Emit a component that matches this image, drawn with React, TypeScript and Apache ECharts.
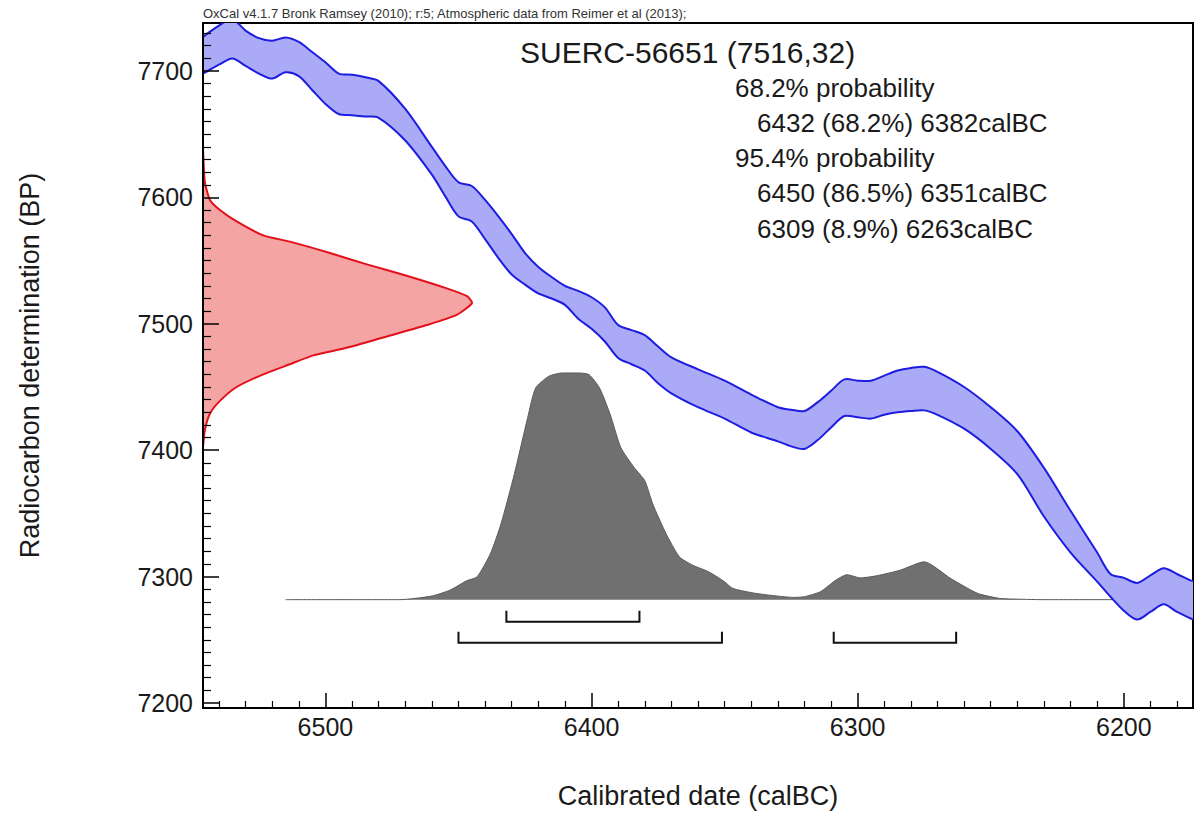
import React, { useEffect, useRef } from "react";
import * as echarts from "echarts";

const FONT = "'Liberation Sans', Arial, Helvetica, sans-serif";

const headerText =
  "OxCal v4.1.7 Bronk Ramsey (2010); r:5; Atmospheric data from Reimer et al (2013);";
const sampleName = "SUERC-56651";
const sampleAge = 7516;
const sampleErr = 32;

// Calibration curve (IntCal13) 1-sigma envelope
const bandYears = [
  6546, 6540, 6535, 6530, 6525, 6520, 6515, 6510, 6505, 6500, 6495, 6490, 6485, 6480,
  6470, 6460, 6455, 6450, 6445, 6440, 6435, 6430, 6425, 6420, 6415, 6410, 6405, 6400,
  6395, 6390, 6385, 6380, 6375, 6370, 6360, 6350, 6340, 6330, 6325, 6320, 6315, 6310,
  6305, 6300, 6295, 6290, 6285, 6280, 6275, 6270, 6260, 6250, 6240, 6230, 6220, 6210,
  6205, 6200, 6195, 6190, 6185, 6180, 6175, 6174,
];
const bandUpper = [
  7727, 7736, 7741, 7732, 7726, 7724, 7726.5, 7723, 7715, 7707, 7698, 7697, 7695, 7692,
  7670, 7640, 7625, 7612, 7609, 7598, 7585, 7571, 7556, 7545, 7537, 7530, 7526, 7521,
  7513, 7499, 7495, 7491, 7482, 7473.5, 7464, 7455, 7444, 7434, 7432, 7431, 7438, 7447,
  7456, 7455, 7455, 7459, 7463, 7465, 7466, 7462, 7450, 7434, 7415, 7386, 7352, 7319,
  7302, 7299, 7295, 7301, 7306.5, 7302, 7297, 7296.5,
];
const bandLower = [
  7698, 7705, 7710, 7704, 7698, 7694, 7699, 7696, 7685, 7674, 7666, 7665, 7664, 7663,
  7645, 7618, 7601, 7585, 7581, 7567, 7552, 7539, 7531, 7524, 7520, 7515, 7504, 7496,
  7486, 7473, 7468, 7463, 7453, 7445, 7434, 7425, 7414, 7407, 7403, 7401, 7408, 7418,
  7427, 7426, 7425, 7428, 7430, 7431, 7431.5, 7428, 7417, 7401, 7381, 7347.5, 7319, 7296,
  7284, 7273, 7266, 7272, 7278, 7272, 7267, 7266,
];

// Calibrated probability distribution (relative)
const calYears = [
  6515, 6472, 6460, 6453, 6447, 6443, 6438, 6434, 6429, 6424, 6421, 6416, 6411, 6405,
  6401, 6397, 6393, 6389, 6384, 6380, 6377, 6372, 6367, 6362, 6356, 6350, 6347, 6340,
  6334, 6324, 6320, 6314, 6308, 6304, 6299, 6293, 6284, 6275, 6265, 6255, 6247, 6243,
  6230, 6175,
];
const calProb = [
  0, 0, 0.016, 0.043, 0.083, 0.101, 0.203, 0.335, 0.554, 0.803, 0.934, 0.986, 1.0, 1.0,
  0.993, 0.934, 0.817, 0.671, 0.583, 0.525, 0.422, 0.291, 0.189, 0.152, 0.123, 0.079, 0.05, 0.031,
  0.021, 0.01, 0.013, 0.035, 0.088, 0.11, 0.096, 0.105, 0.13, 0.167, 0.093, 0.028, 0.006, 0.003,
  0, 0,
];

// Radiocarbon measurement distribution (relative)
const c14Ages = [
  7639, 7612, 7598, 7590, 7581, 7570, 7565, 7556, 7547, 7538, 7528, 7522, 7516.5,
  7507, 7499, 7490, 7481, 7475, 7468, 7460, 7450, 7439, 7429, 7416, 7402,
];
const c14Density = [
  0, 0.007, 0.026, 0.063, 0.125, 0.224, 0.323, 0.472, 0.609, 0.757, 0.906, 0.98, 1.0,
  0.943, 0.832, 0.683, 0.534, 0.41, 0.323, 0.224, 0.125, 0.063, 0.026, 0.007, 0,
];

// Highest posterior density ranges
const hpd68 = [[6432, 6382]];
const hpd68Pct = [68.2];
const hpd95 = [[6450, 6351], [6309, 6263]];
const hpd95Pct = [86.5, 8.9];

const App: React.FC = () => {
  const ref = useRef<HTMLDivElement>(null);

  useEffect(() => {
    if (!ref.current) return;
    const chart = echarts.init(ref.current, undefined, { renderer: "svg" });

    const textCol = "#1a1a1a";
    const fmt = (v: number) => String(v);

    const bracketData = [
      ...hpd68.map((r) => [r[0], r[1], 0]),
      ...hpd95.map((r) => [r[0], r[1], 1]),
    ];

    const lines: { t: string; x: number; y: number }[] = [
      { t: "68.2% probability", x: 735, y: 88 },
      ...hpd68.map((r, i) => ({ t: `${r[0]} (${hpd68Pct[i]}%) ${r[1]}calBC`, x: 757, y: 123 })),
      { t: "95.4% probability", x: 735, y: 158 },
      ...hpd95.map((r, i) => ({
        t: `${r[0]} (${hpd95Pct[i]}%) ${r[1]}calBC`,
        x: 757,
        y: 193 + i * 36,
      })),
    ];

    const graphics: any[] = [
      {
        type: "text",
        x: 203,
        y: 13,
        style: {
          text: headerText,
          font: `13px ${FONT}`,
          fill: "#333",
          verticalAlign: "middle",
          textVerticalAlign: "middle",
        },
      },
      {
        type: "text",
        x: 520,
        y: 52,
        style: {
          text: `${sampleName} (${sampleAge},${sampleErr})`,
          font: `30px ${FONT}`,
          fill: textCol,
          verticalAlign: "middle",
          textVerticalAlign: "middle",
        },
      },
      ...lines.map((l) => ({
        type: "text",
        x: l.x,
        y: l.y,
        style: {
          text: l.t,
          font: `26px ${FONT}`,
          fill: textCol,
          verticalAlign: "middle",
          textVerticalAlign: "middle",
        },
      })),
    ];

    const option: any = {
      animation: false,
      backgroundColor: "#fff",
      textStyle: { fontFamily: FONT },
      grid: {
        left: 203,
        top: 23,
        right: 5,
        bottom: 102,
        show: true,
        borderColor: "#000",
        borderWidth: 2,
        backgroundColor: "transparent",
      },
      xAxis: [
        {
          type: "value",
          inverse: true,
          min: 6174,
          max: 6546,
          splitNumber: 4,
          z: 5,
          name: "Calibrated date (calBC)",
          nameLocation: "middle",
          nameGap: 74,
          nameTextStyle: { fontSize: 27, color: textCol, fontFamily: FONT },
          axisLine: { show: true, onZero: false, lineStyle: { color: "#000", width: 2 } },
          axisTick: { show: true, inside: true, length: 15, lineStyle: { color: "#000", width: 1.5 } },
          minorTick: { show: true, splitNumber: 10, length: 7, lineStyle: { color: "#000", width: 1.2 } },
          axisLabel: {
            fontSize: 25,
            color: textCol,
            margin: 6,
            showMinLabel: false,
            showMaxLabel: false,
            formatter: fmt,
            fontFamily: FONT,
          },
          splitLine: { show: false },
          minorSplitLine: { show: false },
        },
        { type: "value", min: 0, max: 3.68, show: false, axisLine: { onZero: false } },
      ],
      yAxis: [
        {
          type: "value",
          min: 7196,
          max: 7738,
          splitNumber: 5,
          z: 5,
          name: "Radiocarbon determination (BP)",
          nameLocation: "middle",
          nameGap: 160,
          nameTextStyle: { fontSize: 27, color: textCol, fontFamily: FONT },
          axisLine: { show: true, onZero: false, lineStyle: { color: "#000", width: 2 } },
          axisTick: { show: true, inside: true, length: 16, lineStyle: { color: "#000", width: 1.5 } },
          minorTick: { show: true, splitNumber: 10, length: 8, lineStyle: { color: "#000", width: 1.2 } },
          axisLabel: {
            fontSize: 25,
            color: textCol,
            margin: 10,
            showMinLabel: false,
            showMaxLabel: false,
            formatter: fmt,
            fontFamily: FONT,
          },
          splitLine: { show: false },
          minorSplitLine: { show: false },
        },
        { type: "value", min: -0.478, max: 2.544, show: false, axisLine: { onZero: false } },
      ],
      series: [
        {
          name: "Calibrated",
          type: "line",
          xAxisIndex: 0,
          yAxisIndex: 1,
          data: calYears.map((y, i) => [y, calProb[i]]),
          showSymbol: false,
          symbol: "none",
          smooth: 0.2,
          lineStyle: { color: "#5a5a5a", width: 1 },
          areaStyle: { color: "#707070", opacity: 1 },
          z: 2,
        },
        {
          name: "Measurement",
          type: "custom",
          xAxisIndex: 1,
          yAxisIndex: 0,
          data: c14Ages.map((a, i) => [c14Density[i], a]),
          renderItem: (params: any, api: any) => {
            if (params.dataIndex !== 0) return null;
            const pts = c14Ages.map((a, i) => api.coord([c14Density[i], a]));
            return {
              type: "group",
              children: [
                { type: "polygon", shape: { points: pts, smooth: 0.2 }, style: { fill: "#f5a4a4", stroke: "none" } },
                {
                  type: "polyline",
                  shape: { points: pts, smooth: 0.2 },
                  style: { fill: "none", stroke: "#e3101c", lineWidth: 2 },
                },
              ],
            };
          },
          z: 3,
        },
        {
          name: "Calibration curve",
          type: "custom",
          xAxisIndex: 0,
          yAxisIndex: 0,
          clip: true,
          encode: { x: 0, y: [1, 2] },
          data: bandYears.map((y, i) => [y, bandLower[i], bandUpper[i]]),
          renderItem: (params: any, api: any) => {
            if (params.dataIndex !== 0) return null;
            const up = bandYears.map((y, i) => api.coord([y, bandUpper[i]]));
            const lo = bandYears.map((y, i) => api.coord([y, bandLower[i]]));
            const poly = up.concat(lo.slice().reverse());
            return {
              type: "group",
              children: [
                { type: "polygon", shape: { points: poly, smooth: 0.3 }, style: { fill: "#aaaaf7", stroke: "none" } },
                { type: "polyline", shape: { points: up, smooth: 0.3 }, style: { fill: "none", stroke: "#1d1de0", lineWidth: 2 } },
                { type: "polyline", shape: { points: lo, smooth: 0.3 }, style: { fill: "none", stroke: "#1d1de0", lineWidth: 2 } },
              ],
            };
          },
          z: 4,
        },
        {
          name: "ranges",
          type: "custom",
          xAxisIndex: 0,
          yAxisIndex: 1,
          encode: { x: [0, 1], y: 2 },
          data: bracketData,
          renderItem: (params: any, api: any) => {
            const x1 = api.value(0);
            const x2 = api.value(1);
            const lvl = api.value(2);
            const p1 = api.coord([x1, 0]);
            const p2 = api.coord([x2, 0]);
            const yb = p1[1] + (lvl === 0 ? 22 : 43);
            return {
              type: "polyline",
              shape: {
                points: [
                  [p1[0], yb - 11],
                  [p1[0], yb],
                  [p2[0], yb],
                  [p2[0], yb - 11],
                ],
              },
              style: { fill: "none", stroke: "#111", lineWidth: 2 },
            };
          },
          z: 4,
        },
      ],
      graphic: graphics,
    };

    chart.setOption(option);
    return () => chart.dispose();
  }, []);

  return (
    <div
      ref={ref}
      style={{ position: "absolute", left: 0, top: 0, width: 1198, height: 814, background: "#fff" }}
    />
  );
};

export default App;
